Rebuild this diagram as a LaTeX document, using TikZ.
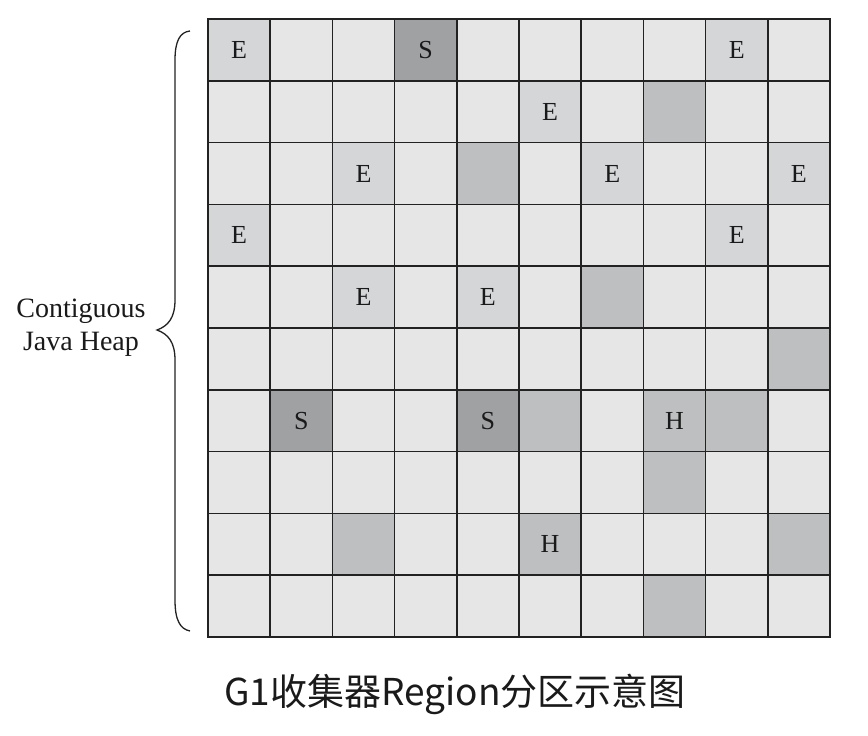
\documentclass[tikz,border=0pt]{standalone}
\usepackage{fontspec}
\setmainfont{Liberation Serif}
\newfontfamily\cjk{Noto Sans CJK SC}
\definecolor{cfree}{HTML}{E6E6E6}
\definecolor{ceden}{HTML}{D4D6D8}
\definecolor{cmid}{HTML}{BDBFC1}
\definecolor{cdark}{HTML}{A0A1A3}
\definecolor{gridc}{HTML}{222222}
\definecolor{txt}{HTML}{1A1A1A}
\begin{document}
\begin{tikzpicture}[x=1pt,y=-1pt,
  cell/.style={draw=gridc, line width=1.6pt, minimum width=62.2pt, minimum height=61.8pt,
    inner sep=0pt, text=txt, font=\fontsize{26}{26}\selectfont},
  eden/.style={cell, fill=ceden},
  surv/.style={cell, fill=cdark},
  hum/.style={cell, fill=cmid},
  old/.style={cell, fill=cmid},
  bracepath/.style={draw=gridc, line width=1.3pt}]
\useasboundingbox[fill=white] (0,0) rectangle (868,736);
% base grid
\foreach \r in {0,...,9}{
  \foreach \c in {0,...,9}{
    \node[cell, fill=cfree] (c-\r-\c) at ({208+62.2*(\c+0.5)},{19+61.8*(\r+0.5)}) {};
  }
}
% Eden regions
\node[eden] (e1) at (c-0-0) {E};
\node[eden] (e2) at (c-0-8) {E};
\node[eden] (e3) at (c-1-5) {E};
\node[eden] (e4) at (c-2-2) {E};
\node[eden] (e5) at (c-2-6) {E};
\node[eden] (e6) at (c-2-9) {E};
\node[eden] (e7) at (c-3-0) {E};
\node[eden] (e8) at (c-3-8) {E};
\node[eden] (e9) at (c-4-2) {E};
\node[eden] (e10) at (c-4-4) {E};
% Survivor regions
\node[surv] (s1) at (c-0-3) {S};
\node[surv] (s2) at (c-6-1) {S};
\node[surv] (s3) at (c-6-4) {S};
% Humongous regions
\node[hum] (h1) at (c-6-7) {H};
\node[hum] (h2) at (c-8-5) {H};
% Old regions
\node[old] (o1) at (c-1-7) {};
\node[old] (o2) at (c-2-4) {};
\node[old] (o3) at (c-4-6) {};
\node[old] (o4) at (c-5-9) {};
\node[old] (o5) at (c-6-5) {};
\node[old] (o6) at (c-6-8) {};
\node[old] (o7) at (c-7-7) {};
\node[old] (o8) at (c-8-2) {};
\node[old] (o9) at (c-8-9) {};
\node[old] (o10) at (c-9-7) {};
% brace
\draw[bracepath] (190,31) .. controls (180,32) and (175,41) .. (175,60) -- (175,300)
  .. controls (175,318) and (168,326) .. (157,330)
  .. controls (168,334) and (175,342) .. (175,360) -- (175,600)
  .. controls (175,620) and (180,629) .. (190,631);
% labels
\node[align=center, text=txt, font=\fontsize{28}{33}\selectfont] (heap) at (81,328) {Contiguous\\Java Heap};
\node[text=txt, font=\cjk\fontsize{37}{37}\selectfont] (caption) at (455,694) {G1收集器Region分区示意图};
\end{tikzpicture}
\end{document}
